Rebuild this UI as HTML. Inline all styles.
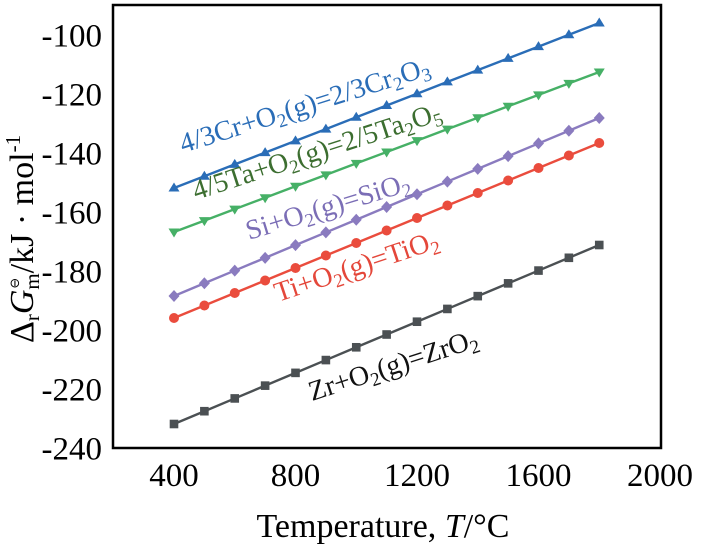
<!DOCTYPE html>
<html>
<head>
<meta charset="utf-8">
<style>
  html,body{margin:0;padding:0;background:#fff;}
  svg{display:block;}
  text{font-family:"Liberation Serif","DejaVu Serif",serif;}
</style>
</head>
<body>
<svg width="702" height="551" viewBox="0 0 702 551" xmlns="http://www.w3.org/2000/svg">
  <defs>
    <marker id="mCr" markerUnits="userSpaceOnUse" viewBox="-7 -7 14 14" refX="0" refY="0" markerWidth="14" markerHeight="14" overflow="visible">
      <polygon points="-5.5,3.5 5.5,3.5 0,-5.5" fill="#2a6db7"/>
    </marker>
    <marker id="mTa" markerUnits="userSpaceOnUse" viewBox="-7 -7 14 14" refX="0" refY="0" markerWidth="14" markerHeight="14" overflow="visible">
      <polygon points="-5.5,-3.5 5.5,-3.5 0,5.5" fill="#46b066"/>
    </marker>
    <marker id="mSi" markerUnits="userSpaceOnUse" viewBox="-7 -7 14 14" refX="0" refY="0" markerWidth="14" markerHeight="14" overflow="visible">
      <polygon points="0,-6 5.5,0 0,6 -5.5,0" fill="#8a7bbf"/>
    </marker>
    <marker id="mTi" markerUnits="userSpaceOnUse" viewBox="-7 -7 14 14" refX="0" refY="0" markerWidth="14" markerHeight="14" overflow="visible">
      <circle cx="0" cy="0" r="5" fill="#ea4c3d"/>
    </marker>
    <marker id="mZr" markerUnits="userSpaceOnUse" viewBox="-7 -7 14 14" refX="0" refY="0" markerWidth="14" markerHeight="14" overflow="visible">
      <rect x="-4.3" y="-4.3" width="8.6" height="8.6" fill="#4b5053"/>
    </marker>
  </defs>

  <!-- frame -->
  <rect x="113" y="5" width="548" height="443" fill="none" stroke="#000" stroke-width="2.5"/>

  <!-- series -->
  <polyline fill="none" stroke="#2a6db7" stroke-width="2.4" marker-start="url(#mCr)" marker-mid="url(#mCr)" marker-end="url(#mCr)"
    points="174,188 204.375,176.21 234.75,164.43 265.125,152.64 295.5,140.86 325.875,129.07 356.25,117.29 386.625,105.5 417,93.71 447.375,81.93 477.75,70.14 508.125,58.36 538.5,46.57 568.875,34.79 599.25,23"/>
  <polyline fill="none" stroke="#46b066" stroke-width="2.4" marker-start="url(#mTa)" marker-mid="url(#mTa)" marker-end="url(#mTa)"
    points="174,232 204.375,220.57 234.75,209.14 265.125,197.71 295.5,186.29 325.875,174.86 356.25,163.43 386.625,152 417,140.57 447.375,129.14 477.75,117.71 508.125,106.29 538.5,94.86 568.875,83.43 599.25,72"/>
  <polyline fill="none" stroke="#8a7bbf" stroke-width="2.4" marker-start="url(#mSi)" marker-mid="url(#mSi)" marker-end="url(#mSi)"
    points="174,296 204.375,283.29 234.75,270.57 265.125,257.86 295.5,245.14 325.875,232.43 356.25,219.71 386.625,207 417,194.29 447.375,181.57 477.75,168.86 508.125,156.14 538.5,143.43 568.875,130.71 599.25,118"/>
  <polyline fill="none" stroke="#ea4c3d" stroke-width="2.4" marker-start="url(#mTi)" marker-mid="url(#mTi)" marker-end="url(#mTi)"
    points="174,318 204.375,305.5 234.75,293 265.125,280.5 295.5,268 325.875,255.5 356.25,243 386.625,230.5 417,218 447.375,205.5 477.75,193 508.125,180.5 538.5,168 568.875,155.5 599.25,143"/>
  <polyline fill="none" stroke="#4b5053" stroke-width="2.4" marker-start="url(#mZr)" marker-mid="url(#mZr)" marker-end="url(#mZr)"
    points="174,424 204.375,411.21 234.75,398.43 265.125,385.64 295.5,372.86 325.875,360.07 356.25,347.29 386.625,334.5 417,321.71 447.375,308.93 477.75,296.14 508.125,283.36 538.5,270.57 568.875,257.79 599.25,245"/>

  <!-- series labels -->
  <text transform="translate(183,153) rotate(-17.5)" font-size="28" fill="#2a6db7">4/3Cr+O<tspan font-size="19" dy="5">2</tspan><tspan dy="-5">(g)=2/3Cr</tspan><tspan font-size="19" dy="5">2</tspan><tspan dy="-5">O</tspan><tspan font-size="19" dy="5">3</tspan></text>
  <text transform="translate(196,200) rotate(-18)" font-size="28" fill="#3c6e30">4/5Ta+O<tspan font-size="19" dy="5">2</tspan><tspan dy="-5">(g)=2/5Ta</tspan><tspan font-size="19" dy="5">2</tspan><tspan dy="-5">O</tspan><tspan font-size="19" dy="5">5</tspan></text>
  <text transform="translate(249,240) rotate(-17)" font-size="28" fill="#7b6eb6">Si+O<tspan font-size="19" dy="5">2</tspan><tspan dy="-5">(g)=SiO</tspan><tspan font-size="19" dy="5">2</tspan></text>
  <text transform="translate(278,302) rotate(-18.5)" font-size="28" fill="#e4473a">Ti+O<tspan font-size="19" dy="5">2</tspan><tspan dy="-5">(g)=TiO</tspan><tspan font-size="19" dy="5">2</tspan></text>
  <text transform="translate(312,401) rotate(-18)" font-size="28" fill="#111">Zr+O<tspan font-size="19" dy="5">2</tspan><tspan dy="-5">(g)=ZrO</tspan><tspan font-size="19" dy="5">2</tspan></text>

  <!-- y tick labels -->
  <g font-size="33" fill="#000" text-anchor="end">
    <text x="102" y="46.5">-100</text>
    <text x="102" y="105.5">-120</text>
    <text x="102" y="164.5">-140</text>
    <text x="102" y="223.5">-160</text>
    <text x="102" y="282.5">-180</text>
    <text x="102" y="341.5">-200</text>
    <text x="102" y="400.5">-220</text>
    <text x="102" y="459.5">-240</text>
  </g>

  <!-- x tick labels -->
  <g font-size="33" fill="#000" text-anchor="middle">
    <text x="174" y="486">400</text>
    <text x="295.5" y="486">800</text>
    <text x="417" y="486">1200</text>
    <text x="538.5" y="486">1600</text>
    <text x="660" y="486">2000</text>
  </g>

  <!-- axis titles -->
  <text x="383" y="537" font-size="34" text-anchor="middle" fill="#000">Temperature, <tspan font-style="italic">T</tspan>/°C</text>

  <text transform="translate(33,343) rotate(-90)" font-size="34" fill="#000">Δ<tspan font-size="21" dy="6">r</tspan><tspan font-style="italic" dy="-6">G</tspan><tspan font-family="DejaVu Sans" font-size="13" dx="1" dy="-14">⊖</tspan><tspan font-size="21" dx="-12" dy="20">m</tspan><tspan dy="-6">/kJ · mol</tspan><tspan font-size="21" dy="-13">-1</tspan></text>
</svg>
</body>
</html>
